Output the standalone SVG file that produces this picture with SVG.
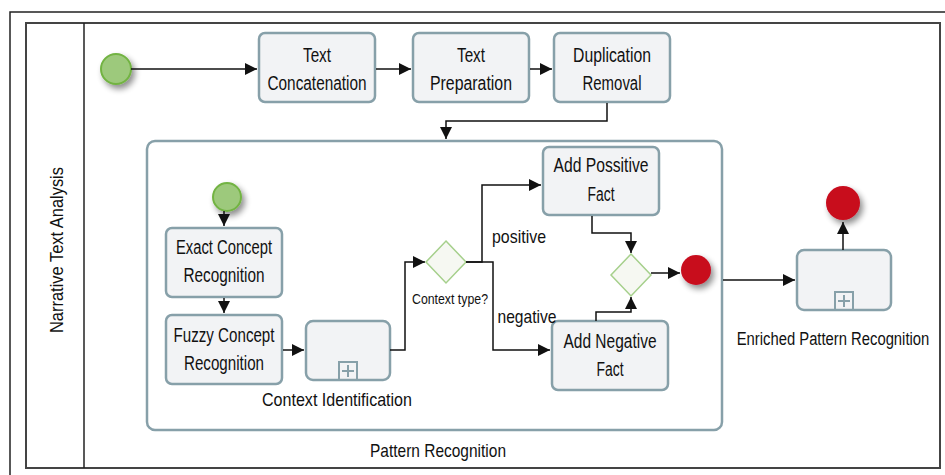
<svg xmlns="http://www.w3.org/2000/svg" width="945" height="475" viewBox="0 0 945 475">
<defs>
<style>
.task{fill:#f2f3f5;stroke:#87a0a9;stroke-width:2.5}
text{font-family:"Liberation Sans",Arial,sans-serif;fill:#111;text-anchor:middle}
.t{font-size:20px}
.lbl{font-size:19px}
.sm{font-size:15px}
.flow{fill:none;stroke:#111;stroke-width:1.5}
.start{fill:#9dc97b;stroke:#72b343;stroke-width:2}
.end{fill:#c8091f;stroke:none}
.gw{fill:#f6f8f2;stroke:#a6d08c;stroke-width:1.5}
.mk{fill:none;stroke:#87a0a9;stroke-width:2}
</style>
<marker id="arr" viewBox="0 0 10 10" refX="10" refY="5" markerWidth="12" markerHeight="12" markerUnits="userSpaceOnUse" orient="auto">
<path d="M0,0 L10,5 L0,10 z" fill="#111"/>
</marker>
<filter id="sh" x="-50%" y="-50%" width="200%" height="200%">
<feGaussianBlur in="SourceAlpha" stdDeviation="3"/>
<feOffset dx="3" dy="4" result="b"/>
<feComponentTransfer><feFuncA type="linear" slope="0.45"/></feComponentTransfer>
<feMerge><feMergeNode/><feMergeNode in="SourceGraphic"/></feMerge>
</filter>
</defs>
<rect width="945" height="475" fill="#fff"/>
<g id="frame">
<path d="M10,475 V12 H945" fill="none" stroke="#222" stroke-width="1.5"/>
<rect x="26" y="23" width="914" height="445" fill="none" stroke="#444" stroke-width="2"/>
<line x1="84" y1="23" x2="84" y2="468" stroke="#222" stroke-width="1.5"/>
<text class="lbl" transform="translate(63,250) rotate(-90)" textLength="166" lengthAdjust="spacingAndGlyphs">Narrative Text Analysis</text>
</g>
<g id="pattern-recognition">
<rect x="147" y="141" width="575" height="289" rx="8" fill="none" stroke="#87a0a9" stroke-width="2.5"/>
<text class="lbl" x="438" y="457" textLength="136" lengthAdjust="spacingAndGlyphs">Pattern Recognition</text>
</g>
<g id="start"><circle class="start" cx="116" cy="69" r="15" filter="url(#sh)"/></g>
<g id="text-concatenation"><rect class="task" x="259" y="33" width="116" height="69" rx="6"/><text class="t" x="317" y="62" textLength="28" lengthAdjust="spacingAndGlyphs">Text</text><text class="t" x="317" y="90" textLength="99" lengthAdjust="spacingAndGlyphs">Concatenation</text></g>
<g id="text-preparation"><rect class="task" x="413" y="33" width="116" height="69" rx="6"/><text class="t" x="471" y="62" textLength="28" lengthAdjust="spacingAndGlyphs">Text</text><text class="t" x="471" y="90" textLength="82" lengthAdjust="spacingAndGlyphs">Preparation</text></g>
<g id="duplication-removal"><rect class="task" x="554" y="33" width="116" height="69" rx="6"/><text class="t" x="612" y="62" textLength="78" lengthAdjust="spacingAndGlyphs">Duplication</text><text class="t" x="612" y="90" textLength="59" lengthAdjust="spacingAndGlyphs">Removal</text></g>
<g id="inner-start"><circle class="start" cx="227" cy="197" r="14" filter="url(#sh)"/></g>
<g id="exact-concept"><rect class="task" x="166" y="228" width="116" height="69" rx="6"/><text class="t" x="224" y="254" textLength="96" lengthAdjust="spacingAndGlyphs">Exact Concept</text><text class="t" x="224" y="282" textLength="81" lengthAdjust="spacingAndGlyphs">Recognition</text></g>
<g id="fuzzy-concept"><rect class="task" x="166" y="315" width="116" height="69" rx="6"/><text class="t" x="224" y="342" textLength="101" lengthAdjust="spacingAndGlyphs">Fuzzy Concept</text><text class="t" x="224" y="370" textLength="80" lengthAdjust="spacingAndGlyphs">Recognition</text></g>
<g id="context-identification"><rect class="task" x="306" y="321" width="84" height="59" rx="7"/><rect class="mk" x="339" y="362" width="18" height="18"/><path class="mk" d="M348,365 V377 M342,371 H354"/><text class="lbl" x="337" y="406" textLength="150" lengthAdjust="spacingAndGlyphs">Context Identification</text></g>
<g id="context-gateway"><path class="gw" d="M446,241 L466,262 L446,283 L426,262 z"/><text class="sm" x="450" y="304" textLength="76" lengthAdjust="spacingAndGlyphs">Context type?</text></g>
<g id="add-positive"><rect class="task" x="543" y="147" width="116" height="68" rx="6"/><text class="t" x="601" y="172" textLength="95" lengthAdjust="spacingAndGlyphs">Add Possitive</text><text class="t" x="601" y="201" textLength="27" lengthAdjust="spacingAndGlyphs">Fact</text></g>
<g id="add-negative"><rect class="task" x="552" y="321" width="116" height="69" rx="6"/><text class="t" x="610" y="348" textLength="93" lengthAdjust="spacingAndGlyphs">Add Negative</text><text class="t" x="610" y="376" textLength="27" lengthAdjust="spacingAndGlyphs">Fact</text></g>
<g id="merge-gateway"><path class="gw" d="M631,254 L651,275 L631,296 L611,275 z"/></g>
<g id="inner-end"><circle class="end" cx="696" cy="270" r="15" filter="url(#sh)"/></g>
<g id="enriched-pattern"><rect class="task" x="797" y="250" width="94" height="60" rx="7"/><rect class="mk" x="835" y="292" width="18" height="18"/><path class="mk" d="M844,295 V307 M838,301 H850"/><text class="lbl" transform="translate(833,345) scale(0.78,1)">Enriched Pattern Recognition</text></g>
<g id="end"><circle class="end" cx="843" cy="203" r="17" filter="url(#sh)"/></g>
<g id="connectors">
<path class="flow" d="M131,69 H257" marker-end="url(#arr)"/>
<path class="flow" d="M376,69 H411" marker-end="url(#arr)"/>
<path class="flow" d="M530,69 H552" marker-end="url(#arr)"/>
<path class="flow" d="M607,103 V121 H446 V139" marker-end="url(#arr)"/>
<path class="flow" d="M224,211 V226" marker-end="url(#arr)"/>
<path class="flow" d="M224,298 V313" marker-end="url(#arr)"/>
<path class="flow" d="M283,350 H304" marker-end="url(#arr)"/>
<path class="flow" d="M390,350 H405 V262 H425" marker-end="url(#arr)"/>
<path class="flow" d="M466,262 H482 V185 H541" marker-end="url(#arr)"/>
<path class="flow" d="M466,262 H493 V350 H550" marker-end="url(#arr)"/>
<path class="flow" d="M592,216 V233 H631 V253" marker-end="url(#arr)"/>
<path class="flow" d="M596,321 V312 H631 V297" marker-end="url(#arr)"/>
<path class="flow" d="M651,273 H680" marker-end="url(#arr)"/>
<path class="flow" d="M723,280 H795" marker-end="url(#arr)"/>
<path class="flow" d="M843,250 V222" marker-end="url(#arr)"/>
<text class="lbl" x="519" y="243" textLength="54" lengthAdjust="spacingAndGlyphs">positive</text>
<text class="lbl" x="527" y="323" textLength="59" lengthAdjust="spacingAndGlyphs">negative</text>
</g>
</svg>
